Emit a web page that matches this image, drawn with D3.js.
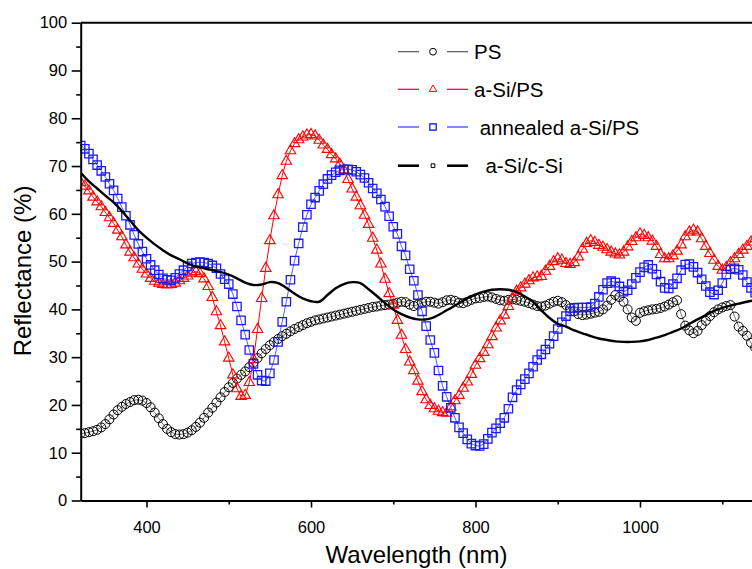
<!DOCTYPE html>
<html><head><meta charset="utf-8">
<script src="https://cdn.jsdelivr.net/npm/d3@7"></script>
<style>
body{margin:0;background:#fff}
svg{display:block;font-family:"Liberation Sans",Arial,Helvetica,sans-serif}
</style>
</head><body>
<svg id="chart" width="752" height="569"></svg>
<script>
// ---------------- data ----------------
const wavelengths = d3.range(320, 1141, 5);      // marker series sample wavelengths (nm)
const cSiWavelengths = d3.range(320, 1141, 10);  // a-Si/c-Si sample wavelengths (nm)

const psValues = [
14.0,14.1,14.3,14.5,14.8,15.3,16.0,17.0,18.0,18.9,
19.6,20.2,20.6,21.0,21.1,20.9,20.4,19.5,18.4,17.2,
16.0,15.0,14.3,13.9,13.8,13.9,14.2,14.7,15.4,16.3,
17.3,18.4,19.4,20.5,21.6,22.7,23.7,24.6,25.5,26.3,
27.0,27.9,28.8,29.8,30.8,31.7,32.5,33.2,33.8,34.4,
34.9,35.4,35.9,36.3,36.7,37.1,37.4,37.7,37.9,38.1,
38.3,38.5,38.7,38.9,39.1,39.3,39.5,39.7,39.9,40.1,
40.3,40.5,40.6,40.8,40.9,41.0,41.2,41.4,41.6,41.5,
41.0,40.7,41.0,41.4,41.6,41.6,41.4,41.2,41.5,41.9,
42.0,41.8,41.4,41.3,41.6,42.0,42.3,42.4,42.6,42.7,
42.5,42.2,41.9,41.8,42.0,42.1,42.0,41.8,41.6,41.3,
41.0,40.7,40.6,40.8,41.2,41.6,41.8,41.5,40.9,40.2,
39.6,39.0,38.8,38.9,39.1,39.3,39.5,40.0,40.8,42.0,
43.0,42.6,41.6,40.0,38.3,37.6,39.3,39.6,39.8,40.0,
40.1,40.3,40.6,41.0,41.5,41.9,39.0,36.6,35.6,35.0,
35.5,36.7,37.6,38.6,39.4,40.0,40.4,40.7,40.9,38.5,
36.4,35.5,34.5,33.0,32.0];

const aSiPsValues = [
66.5,65.8,64.8,63.5,62.5,61.5,60.3,59.2,58.0,56.6,
55.2,53.5,52.0,50.8,49.5,48.4,47.4,46.5,45.9,45.5,
45.2,45.1,45.2,45.5,46.0,46.5,47.0,47.6,47.9,47.5,
46.4,44.8,42.5,39.5,36.6,33.2,29.8,26.3,23.4,21.8,
22.0,24.7,29.5,35.8,42.3,48.6,54.4,59.6,64.0,68.0,
71.0,73.2,74.7,75.5,76.1,76.5,76.6,76.3,75.4,74.4,
73.5,72.4,71.5,70.4,69.2,67.2,65.2,63.5,61.7,59.7,
57.8,54.9,52.4,49.5,46.3,43.3,40.9,37.7,34.6,31.6,
29.0,27.2,25.0,22.8,21.1,19.9,19.2,18.7,18.4,18.3,
19.6,20.9,22.0,23.5,24.8,26.4,28.3,29.7,31.0,32.6,
34.3,36.1,37.6,38.8,40.6,42.3,43.8,44.5,45.3,46.0,
46.6,46.8,46.9,48.0,49.0,50.0,50.6,50.3,49.6,49.4,
49.8,51.0,52.6,53.8,54.4,54.0,53.4,53.0,52.5,52.0,
51.6,51.4,52.0,53.1,54.2,55.0,55.8,55.5,55.0,54.3,
53.2,51.5,50.6,50.6,51.2,52.2,53.5,55.2,56.2,56.6,
56.2,54.8,53.2,51.7,50.3,49.0,48.2,48.8,49.8,50.6,
51.5,52.4,53.2,54.1,54.8];

const annealedValues = [
74.3,73.6,72.6,71.4,70.2,69.0,67.7,66.3,64.9,63.2,
61.4,59.6,57.7,55.6,53.7,52.1,50.6,49.3,48.2,47.3,
46.5,46.2,46.1,46.6,47.4,48.2,49.0,49.6,49.8,49.9,
49.8,49.6,49.2,48.6,47.4,46.3,45.3,43.2,40.6,37.7,
34.7,31.5,28.6,26.3,25.1,25.0,26.6,29.4,33.2,37.4,
41.6,46.2,50.2,53.8,57.2,59.8,62.0,63.4,64.8,66.2,
67.3,68.1,68.7,69.1,69.3,69.3,69.2,68.8,68.2,67.5,
66.5,65.3,64.3,63.0,61.5,59.5,57.3,55.8,53.2,51.3,
48.4,46.0,43.0,39.6,36.5,33.6,30.9,27.2,24.0,21.7,
19.4,17.3,15.3,14.1,12.8,11.9,11.5,11.4,11.8,12.9,
14.2,15.1,16.2,17.3,19.2,21.6,23.1,24.3,25.4,26.6,
28.0,29.4,30.6,31.6,32.8,34.4,35.9,37.3,38.6,39.6,
40.3,40.4,40.4,40.4,40.5,41.2,42.6,44.1,45.5,45.9,
45.6,44.8,43.7,44.0,45.3,46.6,47.8,48.8,49.3,48.5,
47.3,45.8,44.5,44.4,45.3,46.5,48.2,49.4,49.5,48.9,
47.7,46.3,44.9,43.6,43.1,44.0,45.5,47.3,48.4,48.6,
48.3,47.2,45.7,44.5,43.5];

const cSiValues = [
68.6,66.8,65.3,63.8,62.4,60.6,58.6,56.6,55.0,53.6,
52.4,51.3,50.5,49.6,49.0,48.6,48.2,47.8,47.3,46.5,
45.6,45.1,45.2,45.7,45.5,44.5,43.3,42.3,41.7,41.6,
43.0,44.4,45.3,45.7,45.5,44.2,42.8,41.3,40.0,39.0,
38.3,37.9,37.9,38.4,39.3,40.3,41.3,42.3,43.1,43.7,
44.1,44.2,44.1,43.6,42.7,41.6,39.8,38.2,37.0,36.4,
35.6,35.0,34.4,33.9,33.6,33.3,33.2,33.2,33.3,33.6,
34.1,34.6,35.3,36.0,37.0,37.9,38.8,39.7,40.3,40.8,
41.2,41.6,41.9];

const seriesNames = ["PS", "a-Si/PS", " annealed a-Si/PS", "  a-Si/c-Si"];
const xMajorTicks = [400, 600, 800, 1000];
const xMinorTicks = [500, 700, 900, 1100];
const yMajorTicks = [0,10,20,30,40,50,60,70,80,90,100];
const yMinorTicks = [5,15,25,35,45,55,65,75,85,95];
const xTitle = "Wavelength (nm)";
const yTitle = "Reflectance (%)";

// ---------------- chart ----------------
const svg = d3.select("#chart");
const L = 80.7, T = 22.7, B = 500.5;
const x = d3.scaleLinear().domain([320, 1200]).range([L, L + 880 * 0.8225]);
const y = d3.scaleLinear().domain([0, 100]).range([B, T]);

const defs = svg.append("defs");
defs.append("clipPath").attr("id", "plotclip")
  .append("rect").attr("x", L).attr("y", T).attr("width", 752 - L).attr("height", B - T);

const plot = svg.append("g").attr("clip-path", "url(#plotclip)");

function series(wl, vals) { return wl.map((w, i) => ({w, v: vals[i]})); }

const ps = series(wavelengths, psValues);
const red = series(wavelengths, aSiPsValues);
const blue = series(wavelengths, annealedValues);
const csi = series(cSiWavelengths, cSiValues);

const lineGen = d3.line().x(d => x(d.w)).y(d => y(d.v));

// PS
plot.append("path").datum(ps).attr("d", lineGen)
  .attr("fill", "none").attr("stroke", "#555").attr("stroke-width", 0.8);
plot.append("g").selectAll("circle").data(ps).join("circle")
  .attr("cx", d => x(d.w)).attr("cy", d => y(d.v)).attr("r", 4.5)
  .attr("fill", "none").attr("stroke", "#000").attr("stroke-width", 1);

// a-Si/PS
plot.append("path").datum(red).attr("d", lineGen)
  .attr("fill", "none").attr("stroke", "#ff0000").attr("stroke-width", 1);
const tri = d3.symbol().type(d3.symbolTriangle).size(48);
plot.append("g").selectAll("path").data(red).join("path")
  .attr("d", tri).attr("transform", d => `translate(${x(d.w)},${y(d.v)})`)
  .attr("fill", "none").attr("stroke", "#ff0000").attr("stroke-width", 1.1);

// annealed a-Si/PS
plot.append("path").datum(blue).attr("d", lineGen)
  .attr("fill", "none").attr("stroke", "#5a5aff").attr("stroke-width", 1);
const sq = d3.symbol().type(d3.symbolSquare).size(70);
plot.append("g").selectAll("path").data(blue).join("path")
  .attr("d", sq).attr("transform", d => `translate(${x(d.w)},${y(d.v)})`)
  .attr("fill", "none").attr("stroke", "#1a1aff").attr("stroke-width", 1.3);

// a-Si/c-Si
plot.append("path").datum(csi).attr("d", lineGen.curve(d3.curveCatmullRom))
  .attr("fill", "none").attr("stroke", "#000").attr("stroke-width", 2.4);

// ---------------- axes ----------------
function styleAxis(g) {
  g.selectAll(".domain").attr("stroke", "#000").attr("stroke-width", 2);
  g.selectAll(".tick line").attr("stroke", "#000").attr("stroke-width", 1.6);
  g.selectAll(".tick text").attr("fill", "#000").style("font-size", "16.5px")
    .style("font-family", '"Liberation Sans",Arial,sans-serif');
}
const yAx = svg.append("g").attr("transform", `translate(${L},0)`)
  .call(d3.axisLeft(y).tickValues(yMajorTicks).tickFormat(d3.format("d")).tickSize(9).tickSizeOuter(0).tickPadding(4.5));
styleAxis(yAx);
const yMin = svg.append("g").attr("transform", `translate(${L},0)`)
  .call(d3.axisLeft(y).tickValues(yMinorTicks).tickSize(4.5).tickFormat(""));
styleAxis(yMin); yMin.select(".domain").remove();

const xAx = svg.append("g").attr("transform", `translate(0,${B})`)
  .call(d3.axisBottom(x).tickValues(xMajorTicks).tickFormat(d3.format("d")).tickSize(7).tickSizeOuter(0).tickPadding(13.5));
styleAxis(xAx);
const xMin = svg.append("g").attr("transform", `translate(0,${B})`)
  .call(d3.axisBottom(x).tickValues(xMinorTicks).tickSize(4).tickFormat(""));
styleAxis(xMin); xMin.select(".domain").remove();

// top frame
svg.append("line").attr("x1", L).attr("x2", x(1200)).attr("y1", T).attr("y2", T)
  .attr("stroke", "#000").attr("stroke-width", 2);

// titles
svg.append("text").attr("x", 416.5).attr("y", 563).attr("text-anchor", "middle")
  .style("font-size", "24px").attr("fill", "#000").text(xTitle);
svg.append("text").attr("transform", "translate(31,271) rotate(-90)").attr("text-anchor", "middle")
  .style("font-size", "24px").attr("fill", "#000").text(yTitle);

// ---------------- legend ----------------
const legendRowsY = [51.7, 89.3, 127, 165.7];
const legendStyles = [
  {line: "#555", lw: 1.2, sym: "circle"},
  {line: "#ff0000", lw: 1.2, sym: "tri"},
  {line: "#6b6bff", lw: 1.6, sym: "sq"},
  {line: "#000", lw: 2.6, sym: "small"}
];
const leg = svg.append("g");
seriesNames.forEach((name, i) => {
  const yy = legendRowsY[i], st = legendStyles[i];
  leg.append("line").attr("x1", 398).attr("x2", 419).attr("y1", yy).attr("y2", yy)
    .attr("stroke", st.line).attr("stroke-width", st.lw);
  leg.append("line").attr("x1", 447).attr("x2", 468).attr("y1", yy).attr("y2", yy)
    .attr("stroke", st.line).attr("stroke-width", st.lw);
  if (st.sym === "circle") {
    leg.append("circle").attr("cx", 433).attr("cy", yy).attr("r", 3.4)
      .attr("fill", "none").attr("stroke", "#000").attr("stroke-width", 1);
  } else if (st.sym === "tri") {
    leg.append("path").attr("d", d3.symbol().type(d3.symbolTriangle).size(24)())
      .attr("transform", `translate(433,${yy})`).attr("fill", "none").attr("stroke", "#ff0000").attr("stroke-width", 1);
  } else if (st.sym === "sq") {
    leg.append("path").attr("d", d3.symbol().type(d3.symbolSquare).size(40)())
      .attr("transform", `translate(433,${yy})`).attr("fill", "none").attr("stroke", "#0000ff").attr("stroke-width", 1.2);
  } else {
    leg.append("path").attr("d", d3.symbol().type(d3.symbolSquare).size(14)())
      .attr("transform", `translate(433,${yy})`).attr("fill", "none").attr("stroke", "#000").attr("stroke-width", 1);
  }
  leg.append("text").attr("x", 474).attr("y", yy + 7.5)
    .style("font-size", "20.5px").style("white-space", "pre").attr("xml:space", "preserve")
    .attr("fill", "#000").text(name);
});
</script>
</body></html>
